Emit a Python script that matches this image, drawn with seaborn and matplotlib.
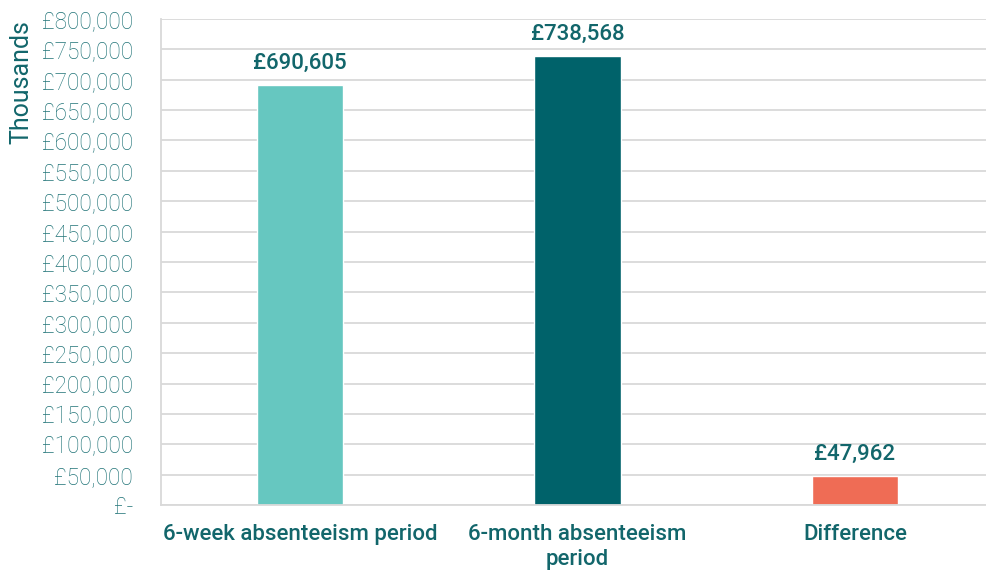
import matplotlib
matplotlib.use("Agg")
import matplotlib.pyplot as plt
import seaborn as sns
import pandas as pd
from matplotlib.ticker import FuncFormatter, MultipleLocator

categories = ["6-week absenteeism period", "6-month absenteeism\nperiod", "Difference"]
costs = [690605, 738568, 47962]
colors = ["#66C7C0", "#00626A", "#EF6C55"]

TEXT = "#12666B"
TICK = "#217478"

sns.set_theme(style="white")
plt.rcParams["font.family"] = ["Roboto", "DejaVu Sans"]

df = pd.DataFrame({"category": categories, "cost": costs})

fig = plt.figure(figsize=(9.86, 5.72), dpi=100)
ax = fig.add_axes([161 / 986, 67 / 572, 1 - 161 / 986, (505 - 19) / 572])
sns.barplot(data=df, x="category", y="cost", hue="category", palette=colors,
            width=0.313, saturation=1, legend=False, ax=ax)

ax.set_xlim(-0.501, 2.472)
ax.set_ylim(0, 800000)
ax.yaxis.set_major_locator(MultipleLocator(50000))
ax.yaxis.set_major_formatter(FuncFormatter(lambda v, p: "£-" if v == 0 else f"£{int(v):,}"))
ax.grid(axis="y", color="#D9D9D9", linewidth=1.3)
ax.set_axisbelow(True)
for s in ["top", "right"]:
    ax.spines[s].set_visible(False)
for s in ["left", "bottom"]:
    ax.spines[s].set_color("#D9D9D9")
    ax.spines[s].set_linewidth(1.3)

ax.tick_params(axis="y", length=0, pad=20, labelsize=16.3, labelcolor=TICK)
ax.tick_params(axis="x", length=0, pad=14, labelsize=16, labelcolor=TEXT)
for t in ax.get_yticklabels():
    t.set_fontweight("light")
for t in ax.get_xticklabels():
    t.set_fontweight("medium")
    t.set_linespacing(1.2)

ax.set_xlabel("")
ax.set_ylabel("")
fig.text(21 / 986, 1 - 20 / 572, "Thousands", rotation=90, ha="center", va="top",
         fontsize=18, color=TEXT)

for c in ax.containers:
    ax.bar_label(c, labels=[f"£{v:,.0f}" for v in c.datavalues], padding=8,
                 fontsize=16, fontweight="medium", color=TEXT)

fig.savefig("out.png", dpi=100)
